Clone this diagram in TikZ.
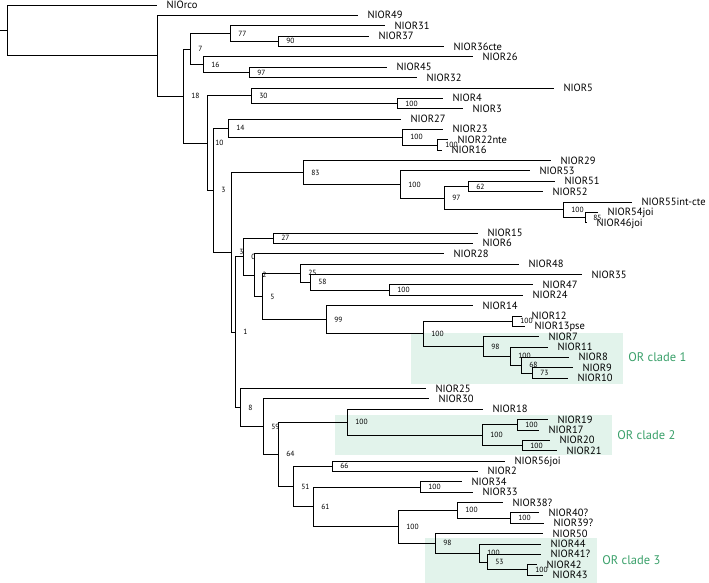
\documentclass[tikz,border=0pt]{standalone}
\usepackage{fontspec}
\setmainfont{PT Sans}
\definecolor{cladefill}{RGB}{226,243,235}
\definecolor{cladetext}{RGB}{58,160,106}

\begin{document}
\begin{tikzpicture}[x=1pt, y=-10.364pt, line width=0.75pt,
	leaf/.style={anchor=west, inner xsep=9.5pt, inner ysep=0pt, outer sep=0pt, text height=7.2pt, text depth=0pt, font=\fontsize{10.5}{12}\selectfont},
	boot/.style={font=\fontsize{7.5}{9}\selectfont, inner sep=0pt, text height=5.3pt, text depth=0pt, xshift=8pt},
	cladename/.style={anchor=west, inner sep=0pt, text=cladetext, font=\fontsize{12.5}{14}\selectfont}]
	\useasboundingbox (0,-0.4824) rectangle (709,55.77);
	%Kladen
	\fill[cladefill] (411,31.65) rectangle (623,36.57);
	\fill[cladefill] (335,39.56) rectangle (612,43.42);
	\fill[cladefill] (425,51.43) rectangle (597,55.77);
	\node[cladename] (clade1) at (628,34.0) {OR clade 1};
	\node[cladename] (clade2) at (617,41.5) {OR clade 2};
	\node[cladename] (clade3) at (602,53.6) {OR clade 3};
	%Blaetter
	\foreach \n/\s/\t [count=\r from 0] in {orco/NIOrco/157, or49/NIOR49/358, or31/NIOR31/385, or37/NIOR37/369,
		or36/NIOR36cte/444, or26/NIOR26/473, or45/NIOR45/387, or32/NIOR32/417, or5/NIOR5/554, or4/NIOR4/443,
		or3/NIOR3/463, or27/NIOR27/401, or23/NIOR23/443, or22/NIOR22nte/448, or16/NIOR16/442, or29/NIOR29/551,
		or53/NIOR53/530, or51/NIOR51/555, or52/NIOR52/543, or55/NIOR55int-cte/632, or54/NIOR54joi/598,
		or46/NIOR46joi/587, or15/NIOR15/478, or6/NIOR6/473, or28/NIOR28/444, or48/NIOR48/519, or35/NIOR35/582,
		or47/NIOR47/533, or24/NIOR24/523, or14/NIOR14/473, or12/NIOR12/522, or13/NIOR13pse/525, or7/NIOR7/539,
		or11/NIOR11/548, or8/NIOR8/569, or9/NIOR9/573, or10/NIOR10/568, or25/NIOR25/426, or30/NIOR30/429,
		or18/NIOR18/483, or19/NIOR19/548, or17/NIOR17/539, or20/NIOR20/550, or21/NIOR21/557, or56/NIOR56joi/505,
		or2/NIOR2/478, or34/NIOR34/462, or33/NIOR33/473, or38/NIOR38?/503, or40/NIOR40?/539, or39/NIOR39?/544,
		or50/NIOR50/543, or44/NIOR44/541, or41/NIOR41?/541, or42/NIOR42/537, or43/NIOR43/543}
		\node[leaf] (\n) at (\t,\r) {\s};
	%innere Knoten mit Bootstrap
	\coordinate (stub) at (0,2.445);
	\coordinate (root) at (7,2.445);
	\coordinate (ingroup) at (157,4.89);
	\foreach \n/\x/\y/\b in {n18/183/8.78/18, n7/190/4.25/7, n77/230/2.75/77, n90/278/3.5/90, n16/203/5.75/16,
		n97a/249/6.5/97, n10/207/13.31/10, n30/251/8.75/30, n4x3/397/9.5/100, n3a/213/17.87/3, n14/228/11.875/14,
		n23x/402/12.75/100, n22x/437/13.5/100, n3b/231/23.86/3, n83/303/16.156/83, n53x/400/17.3125/100,
		n97b/444/18.625/97, n62/468/17.5/62, n55x/563/19.75/100, n85/585/20.5/85, n1/235/31.56/1, n0/243/24.279/0,
		n27/273/22.5/27, n2/254/26.059/2, n5/262/28.117/5, n25/300/25.875/25, n58/310/26.75/58, n47x/389/27.5/100,
		n99/326/30.359/99, n12c/423/31.719/100, n12x/512/30.5/100, n98a/483/32.9375/98, n11x/510/33.875/100,
		n68/521/34.75/68, n73/532/35.5/73, n8/240/38.84/8, n59/263/40.68/59, n64/278/43.355/64, n18x/347/40.25/100,
		nc2/482/41.5/100, n19x/517/40.5/100, n20x/522/42.5/100, n51/293/46.46/51, n66/332/44.5/66, n61/313/48.42/61,
		n34x/420/46.5/100, n50x/398/50.34/100, n38x/457/48.75/100, n40x/510/49.5/100, n98b/435/51.9375/98,
		n44x/479/52.875/100, n53/487/53.75/53, n42x/527/54.5/100}
		\coordinate[label={[boot, name=b\n]right:\b}] (\n) at (\x,\y);
	%Aeste
	\draw (stub) -- (root);
	\foreach \p/\c in {root/orco, root/ingroup, ingroup/or49, ingroup/n18, n18/n7, n18/n10, n7/n77, n7/n16,
		n77/or31, n77/n90, n90/or37, n90/or36, n16/or26, n16/n97a, n97a/or45, n97a/or32, n10/n30, n10/n3a,
		n30/or5, n30/n4x3, n4x3/or4, n4x3/or3, n3a/n14, n3a/n3b, n14/or27, n14/n23x, n23x/or23, n23x/n22x,
		n22x/or22, n22x/or16, n3b/n83, n3b/n1, n83/or29, n83/n53x, n53x/or53, n53x/n97b, n97b/n62, n97b/n55x,
		n62/or51, n62/or52, n55x/or55, n55x/n85, n85/or54, n85/or46, n1/n0, n1/n8, n0/n27, n0/n2, n27/or15,
		n27/or6, n2/or28, n2/n5, n5/n25, n5/n99, n25/or48, n25/n58, n58/or35, n58/n47x, n47x/or47, n47x/or24,
		n99/or14, n99/n12c, n12c/n12x, n12c/n98a, n12x/or12, n12x/or13, n98a/or7, n98a/n11x, n11x/or11,
		n11x/n68, n68/or8, n68/n73, n73/or9, n73/or10, n8/or25, n8/n59, n59/or30, n59/n64, n64/n18x, n64/n51,
		n18x/or18, n18x/nc2, nc2/n19x, nc2/n20x, n19x/or19, n19x/or17, n20x/or20, n20x/or21, n51/n66, n51/n61,
		n66/or56, n66/or2, n61/n34x, n61/n50x, n34x/or34, n34x/or33, n50x/n38x, n50x/n98b, n38x/or38,
		n38x/n40x, n40x/or40, n40x/or39, n98b/or50, n98b/n44x, n44x/or44, n44x/n53, n53/or41, n53/n42x,
		n42x/or42, n42x/or43}
		\draw (\p) |- (\c);
\end{tikzpicture}
\end{document}
